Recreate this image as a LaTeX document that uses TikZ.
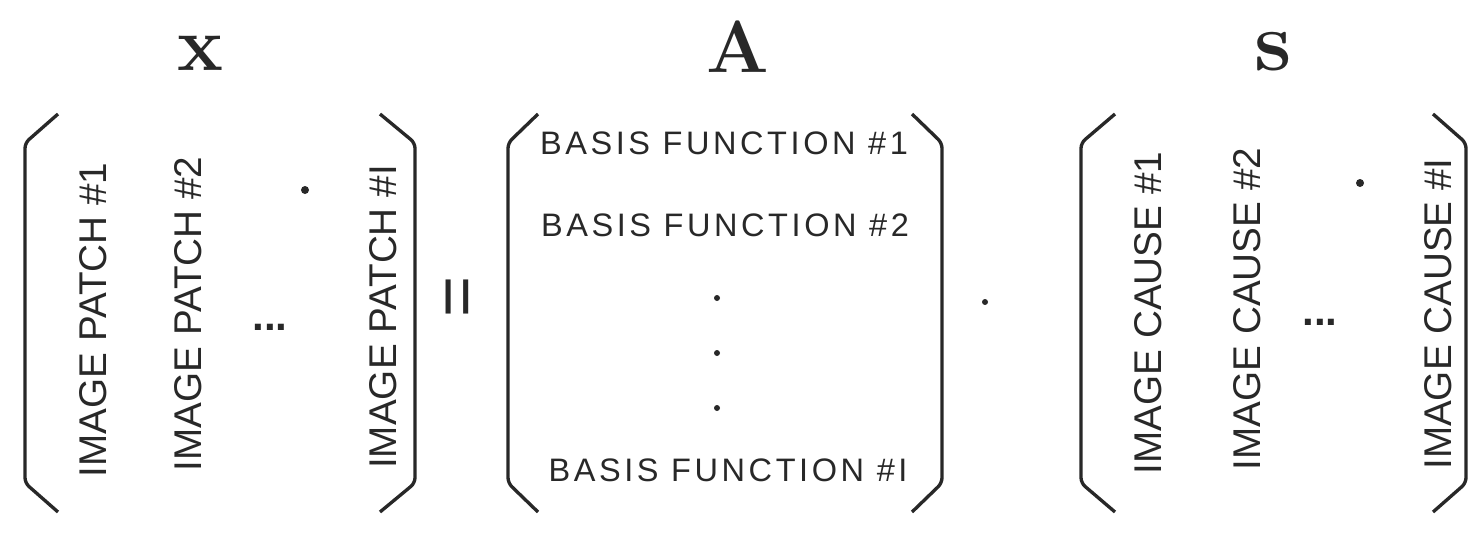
\documentclass[tikz,border=0pt]{standalone}
\usepackage{fontspec}
\usetikzlibrary{positioning}
\newfontfamily\capfont{Liberation Sans}
\newfontfamily\capfontwide[LetterSpace=11]{Liberation Sans}
\definecolor{ink}{RGB}{40,40,40}

\begin{document}
\begin{tikzpicture}[
  x=0.02cm, y=-0.02cm,
  brk/.style={draw=ink, line width=1.9pt, rounded corners=3pt},
  col/.style={rotate=90, text=ink, inner sep=0pt,
    font=\capfont\fontsize{22}{24}\selectfont},
  row/.style={text=ink, inner sep=0pt,
    font=\capfontwide\fontsize{18.5}{20}\selectfont},
  ttl/.style={text=ink, inner sep=0pt},
  spot/.style={circle, fill=ink, inner sep=0pt, minimum size=#1},
]
\useasboundingbox (0,0) rectangle (1469,548);
% titles
\node[ttl, font=\fontsize{44}{44}\selectfont] (tx) at (200,53) {\textbf{x}};
\node[ttl, font=\fontsize{42}{42}\selectfont] (ta) at (738,47) {\textbf{A}};
\node[ttl, font=\fontsize{48}{48}\selectfont] (ts) at (1273,52) {\textbf{s}};
% brackets: top end, corner, corner, bottom end
\foreach \n/\a/\b in {xl/58/25, xr/380/415, al/538/508, ar/912/942,
    sl/1115/1081, sr/1433/1466} {
  \draw[brk] (\a,114) -- (\b,143) -- (\b,483) -- (\a,512);
}
% x columns
\node[col] (p1) at (93,320) {IMAGE PATCH \#1};
\node[col] (p2) at (188,314) {IMAGE PATCH \#2};
\node[col] (pi) at (383,317) {IMAGE PATCH \#I};
\node[spot=1.6mm] (pd) at (305,190) {};
\node[col, rotate=-90, font=\capfont\bfseries\fontsize{24}{24}\selectfont]
  (pe) at (270,327) {...};
% equals
\node[ttl, rotate=90, font=\capfont\fontsize{40}{40}\selectfont] (eq) at (463,297) {=};
% A rows
\node[row] (b1) at (724,143) {BASIS FUNCTION \#1};
\node[row] (b2) at (725,225) {BASIS FUNCTION \#2};
\node[row] (bi) at (728,470) {BASIS FUNCTION \#I};
\foreach \y [count=\i] in {298,353,408} {
  \node[spot=1.2mm] (bd\i) at (717,\y) {};
}
% product
\node[spot=1.2mm] (mul) at (985,302) {};
% s columns
\node[col] (c1) at (1148,313) {IMAGE CAUSE \#1};
\node[col] (c2) at (1247,309) {IMAGE CAUSE \#2};
\node[col] (ci) at (1438,314) {IMAGE CAUSE \#I};
\node[spot=1.6mm] (cd) at (1360,183) {};
\node[col, rotate=-90, font=\capfont\bfseries\fontsize{24}{24}\selectfont]
  (ce) at (1320,322) {...};
\end{tikzpicture}
\end{document}
